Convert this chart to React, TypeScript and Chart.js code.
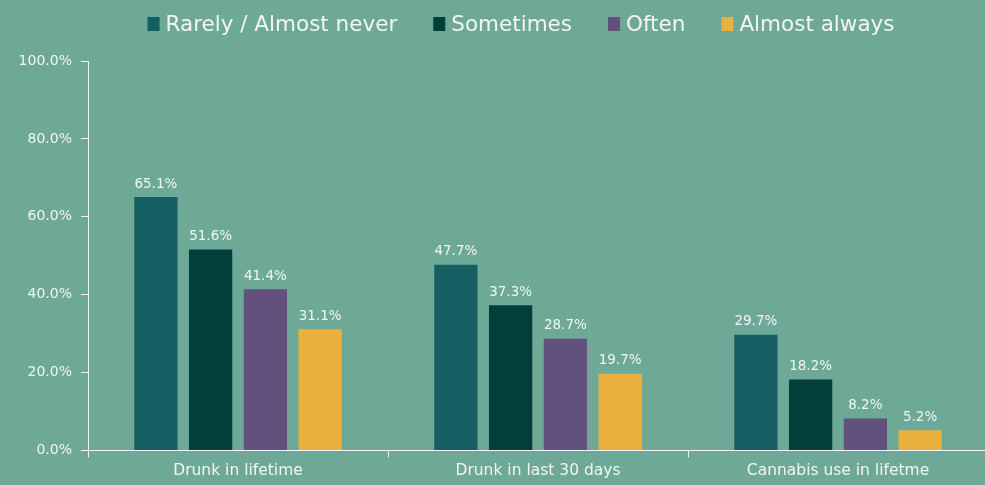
import React, { useEffect, useRef } from "react";
import { Chart, registerables } from "chart.js";

Chart.register(...registerables);

const categories = ["Drunk in lifetime", "Drunk in last 30 days", "Cannabis use in lifetme"];
const seriesNames = ["Rarely / Almost never", "Sometimes", "Often", "Almost always"];
const rarely = [65.1, 47.7, 29.7];
const sometimes = [51.6, 37.3, 18.2];
const often = [41.4, 28.7, 8.2];
const almostAlways = [31.1, 19.7, 5.2];
const seriesColors = ["#155f62", "#023e3a", "#62517c", "#ebb13f"];
const yTicks = [0, 20, 40, 60, 80, 100];

const BG = "#6ea997";
const TXT = "#f2f5f3";
const FONT = "'DejaVu Sans', sans-serif";

const valueLabels = {
  id: "valueLabels",
  afterDatasetsDraw(chart: any) {
    const ctx = chart.ctx;
    ctx.save();
    ctx.fillStyle = TXT;
    ctx.font = `13.5px ${FONT}`;
    ctx.textAlign = "center";
    ctx.textBaseline = "bottom";
    chart.data.datasets.forEach((ds: any, i: number) => {
      const meta = chart.getDatasetMeta(i);
      meta.data.forEach((bar: any, j: number) => {
        ctx.fillText(ds.data[j].toFixed(1) + "%", bar.x, bar.y - 6);
      });
    });
    ctx.restore();
  },
};

// custom legend: small boxes, tight box/text gap, wide item spacing
const legendPlugin = {
  id: "customLegend",
  afterDraw(chart: any) {
    const ctx = chart.ctx;
    ctx.save();
    ctx.font = `21.5px ${FONT}`;
    const boxW = 12, boxH = 14, gapText = 6, gapItem = 36;
    const items = chart.data.datasets.map((ds: any) => ({
      label: ds.label,
      color: ds.backgroundColor,
      w: boxW + gapText + ctx.measureText(ds.label).width,
    }));
    const total = items.reduce((s: number, it: any) => s + it.w, 0) + gapItem * (items.length - 1);
    const centerX = 521;
    let x = centerX - total / 2;
    const midY = 24;
    ctx.textBaseline = "middle";
    ctx.textAlign = "left";
    items.forEach((it: any) => {
      ctx.fillStyle = it.color;
      ctx.fillRect(x, midY - boxH / 2, boxW, boxH);
      ctx.fillStyle = TXT;
      ctx.fillText(it.label, x + boxW + gapText, midY + 1);
      x += it.w + gapItem;
    });
    ctx.restore();
  },
};

const bgPlugin = {
  id: "bgFill",
  beforeDraw(chart: any) {
    const ctx = chart.ctx;
    ctx.save();
    ctx.fillStyle = BG;
    ctx.fillRect(0, 0, chart.width, chart.height);
    ctx.restore();
  },
};

export default function App() {
  const ref = useRef<HTMLCanvasElement>(null);
  useEffect(() => {
    if (!ref.current) return;
    const all = [rarely, sometimes, often, almostAlways];
    const chart = new Chart(ref.current, {
      type: "bar",
      data: {
        labels: categories,
        datasets: all.map((d, i) => ({
          label: seriesNames[i],
          data: d,
          backgroundColor: seriesColors[i],
          borderWidth: 0,
          categoryPercentage: 0.73,
          barPercentage: 0.79,
        })),
      },
      plugins: [bgPlugin, valueLabels, legendPlugin],
      options: {
        responsive: false,
        animation: false,
        layout: { padding: { left: 4, right: 4, top: 61, bottom: 1 } },
        plugins: {
          tooltip: { enabled: false },
          legend: { display: false },
        },
        scales: {
          x: {
            grid: {
              offset: true,
              drawOnChartArea: false,
              drawTicks: true,
              tickLength: 7,
              color: TXT,
            },
            border: { color: TXT, width: 1 },
            ticks: { color: TXT, font: { family: FONT, size: 15.5 }, padding: 4 },
          },
          y: {
            min: 0,
            max: 100,
            afterFit(axis: any) {
              axis.width = 84;
            },
            afterBuildTicks(axis: any) {
              axis.ticks = yTicks.map((v) => ({ value: v }));
            },
            grid: {
              drawOnChartArea: false,
              drawTicks: true,
              tickLength: 7,
              color: TXT,
            },
            border: { color: TXT, width: 1 },
            ticks: {
              color: TXT,
              font: { family: FONT, size: 14 },
              padding: 9,
              callback: (v: any) => Number(v).toFixed(1) + "%",
            },
          },
        },
      },
    });
    return () => chart.destroy();
  }, []);
  return (
    <div style={{ position: "fixed", left: 0, top: 0, width: 985, height: 485, overflow: "hidden", background: BG }}>
      <canvas ref={ref} width={992} height={485} style={{ display: "block" }} />
    </div>
  );
}
